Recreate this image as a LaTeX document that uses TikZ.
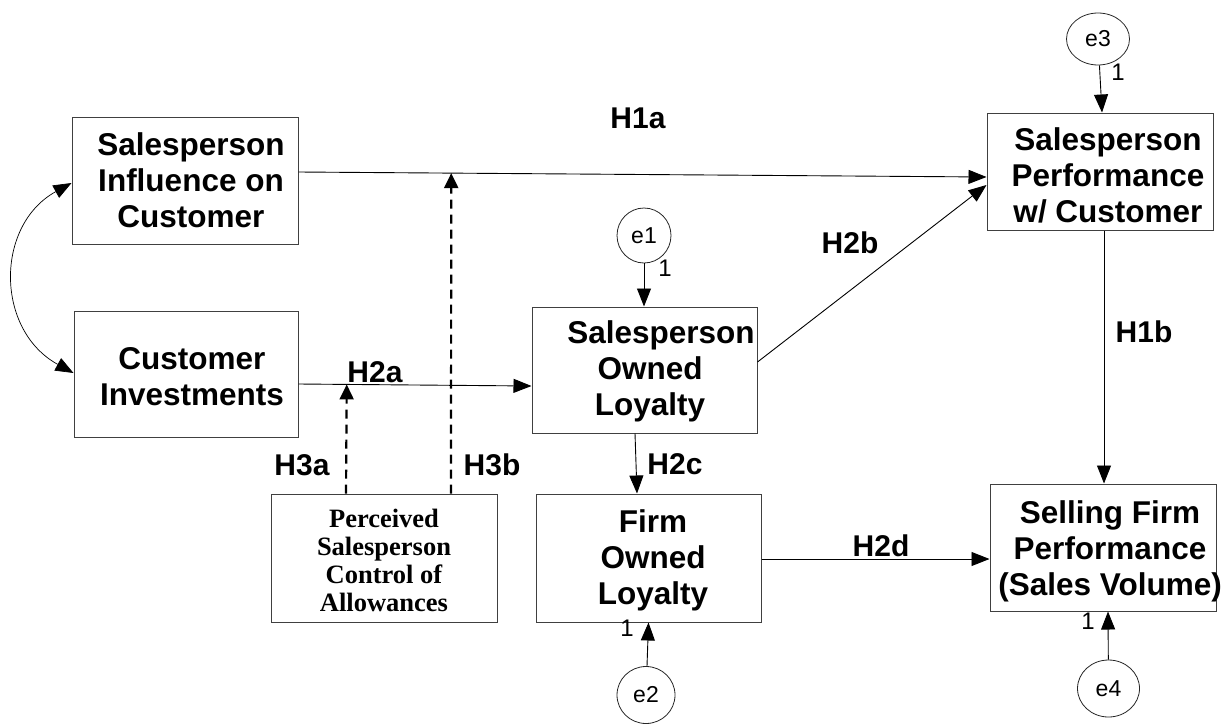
\documentclass[tikz,border=0pt]{standalone}
\usepackage{fontspec}
\setmainfont{Liberation Sans}
\newfontfamily\boxserif{Liberation Serif}
\usetikzlibrary{arrows.meta,calc,shapes.geometric}

\begin{document}
\begin{tikzpicture}[x=1pt,y=-1pt,
  box/.style={draw=black!75, line width=1pt, rectangle, inner sep=0pt},
  boxtext/.style={inner sep=0pt, anchor=north, align=center,
    font=\fontsize{31.5}{36}\selectfont\bfseries},
  hyp/.style={inner sep=0pt, font=\fontsize{30}{36}\selectfont\bfseries},
  errnode/.style={draw=black!85, line width=0.8pt, ellipse, inner sep=0pt,
    font=\fontsize{23}{26}\selectfont},
  fixone/.style={inner sep=0pt, font=\fontsize{24}{26}\selectfont},
  arr/.style={draw=black, line width=0.9pt, -{Triangle[length=18pt,width=14pt]}},
  modarr/.style={draw=black, line width=2.2pt, dash pattern=on 9pt off 6pt,
    -{Triangle[length=15pt,width=14pt]}},
]
\useasboundingbox (0,0) rectangle (1228,723);

% construct boxes
\node[box, minimum width=226pt, minimum height=127pt] (B1)  at (185,180.5) {};
\node[box, minimum width=224pt, minimum height=126pt] (B2)  at (186,374) {};
\node[box, minimum width=226pt, minimum height=128pt] (PSC) at (384,558) {};
\node[box, minimum width=225pt, minimum height=126pt] (SOL) at (644.5,370) {};
\node[box, minimum width=225pt, minimum height=128pt] (FOL) at (648.5,558) {};
\node[box, minimum width=226pt, minimum height=117pt] (SPC) at (1100,171.5) {};
\node[box, minimum width=226pt, minimum height=127pt] (SFP) at (1103,547.5) {};

% box captions
\node[boxtext] (tB1)  at (191,132) {Salesperson\\Influence on\\Customer};
\node[boxtext] (tB2)  at (192,347) {Customer\\Investments};
\node[boxtext] (tSOL) at (650,320) {\hspace*{22pt}Salesperson\\Owned\\Loyalty};
\node[boxtext] (tFOL) at (653,509) {Firm\\Owned\\Loyalty};
\node[boxtext] (tSPC) at (1108,127) {Salesperson\\Performance\\w/ Customer};
\node[boxtext] (tSFP) at (1110,500) {Selling Firm\\Performance\\(Sales Volume)};
\node[inner sep=0pt, anchor=north, align=center,
      font=\boxserif\fontsize{26.5}{28}\selectfont\bfseries] (tPSC) at (384,509)
      {Perceived\\Salesperson\\Control of\\Allowances};

% error terms
\node[errnode, minimum width=54pt, minimum height=55pt] (e1) at (644,235.5) {e1};
\node[errnode, minimum width=58pt, minimum height=57pt] (e2) at (646,695) {e2};
\node[errnode, minimum width=63pt, minimum height=52pt] (e3) at (1098,39) {e3};
\node[errnode, minimum width=62pt, minimum height=57pt] (e4) at (1108.5,688.5) {e4};

\node[fixone] (o1) at (665,268) {1};
\node[fixone] (o2) at (627,628) {1};
\node[fixone] (o3) at (1118,72) {1};
\node[fixone] (o4) at (1088,621) {1};

% error paths
\draw[arr] (e1) -- (SOL.north -| e1);
\draw[arr] (e2) -- (FOL.south);
\draw[arr] (e3) -- ($(SPC.north)+(2,0)$);
\draw[arr] (e4) -- ($(SFP.south)+(5,0)$);

% structural paths
\coordinate (h1s) at ($(B1.east)+(0,-8.5)$);
\coordinate (h1e) at ($(SPC.west)+(0,5.5)$);
\draw[arr] (h1s) -- (h1e);
\coordinate (h2as) at ($(B2.east)+(0,10)$);
\coordinate (h2ae) at ($(SOL.west)+(0,16)$);
\draw[arr] (h2as) -- (h2ae);
\draw[arr] ($(SOL.east)+(0,-8)$) -- ($(SPC.west)+(0,13.5)$);
\draw[arr] ($(SOL.south)+(-9.5,0)$) -- ($(FOL.north)+(-11.5,0)$);
\draw[arr] ($(SPC.south)+(4,0)$) -- ($(SFP.north)+(1,0)$);
\draw[arr] ($(FOL.east)+(0,1)$) -- ($(SFP.west)+(0,11.5)$);

% moderating paths
\coordinate (m1) at ($(h2as)!0.207!(h2ae)$);
\coordinate (m2) at ($(h1s)!0.222!(h1e)$);
\draw[modarr] ($(PSC.north)+(-38,0)$) -- (m1);
\draw[modarr] ($(PSC.north)+(67,0)$) -- (m2);

% covariance
\draw[line width=0.7pt, {Triangle[length=18pt,width=14pt]}-{Triangle[length=18pt,width=14pt]}]
  ($(B1.west)+(0,2.5)$) .. controls (-5,225) and (-5,330) .. ($(B2.west)+(0,-1)$);

% hypothesis labels
\node[hyp] (H1a) at (638,118) {H1a};
\node[hyp] (H2b) at (850,243) {H2b};
\node[hyp] (H1b) at (1144,332) {H1b};
\node[hyp] (H2c) at (675,464) {H2c};
\node[hyp] (H2d) at (881,546) {H2d};
\node[hyp] (H2a) at (375,372) {H2a};
\node[hyp] (H3a) at (302,465) {H3a};
\node[hyp] (H3b) at (492,465) {H3b};
\end{tikzpicture}
\end{document}
